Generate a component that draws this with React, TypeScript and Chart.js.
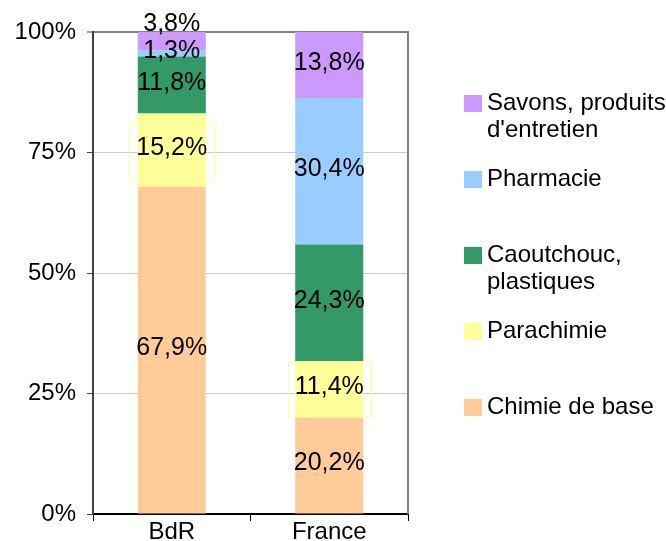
import { useEffect, useRef } from 'react';
import { Chart, registerables } from 'chart.js';

Chart.register(...registerables);

const FONT = '"Liberation Sans", Arial, Helvetica, sans-serif';

const categories = ['BdR', 'France'];
const seriesNames = [
  'Chimie de base',
  'Parachimie',
  'Caoutchouc, plastiques',
  'Pharmacie',
  "Savons, produits d'entretien",
];
const chimieDeBase = [67.9, 20.2];
const parachimie = [15.2, 11.4];
const caoutchouc = [11.8, 24.3];
const pharmacie = [1.3, 30.4];
const savons = [3.8, 13.8];
const yTickValues = [0, 25, 50, 75, 100];

const seriesColors = ['#FFCC99', '#FFFF99', '#339966', '#99CCFF', '#CC99FF'];

const fmt = (v: number) => v.toFixed(1).replace('.', ',') + '%';

const segLabels = {
  id: 'segLabels',
  afterDatasetsDraw(chart: any) {
    const ctx = chart.ctx as CanvasRenderingContext2D;
    ctx.save();
    ctx.font = `25px ${FONT}`;
    ctx.textAlign = 'center';
    ctx.textBaseline = 'middle';
    const n = chart.data.datasets.length;
    chart.data.datasets.forEach((ds: any, di: number) => {
      const meta = chart.getDatasetMeta(di);
      meta.data.forEach((bar: any, i: number) => {
        const v = ds.data[i] as number;
        const p = bar.getProps(['x', 'y', 'base'], true);
        const top = Math.min(p.y, p.base);
        const bottom = Math.max(p.y, p.base);
        const h = bottom - top;
        const mid = (top + bottom) / 2;
        let cy = mid - 2;
        if (di === n - 1 && h < 20) cy = top - 8;
        const text = fmt(v);
        if (ds.labelBox) {
          const w = ctx.measureText(text).width;
          ctx.strokeStyle = '#FFFF99';
          ctx.lineWidth = 1;
          ctx.strokeRect(
            Math.round(p.x - w / 2 - 7) + 0.5,
            Math.round(mid - 28) + 0.5,
            Math.round(w + 14),
            56
          );
        }
        ctx.fillStyle = '#000';
        ctx.fillText(text, p.x, cy);
      });
    });
    ctx.restore();
  },
};

const plotFrame = {
  id: 'plotFrame',
  afterDraw(chart: any) {
    const { ctx, chartArea } = chart;
    ctx.save();
    ctx.strokeStyle = '#808080';
    ctx.lineWidth = 2;
    ctx.beginPath();
    ctx.moveTo(chartArea.right, chartArea.top - 1);
    ctx.lineTo(chartArea.right, chartArea.bottom);
    ctx.stroke();
    ctx.restore();
  },
};

const sideLegend = {
  id: 'sideLegend',
  afterDraw(chart: any) {
    const ctx = chart.ctx as CanvasRenderingContext2D;
    ctx.save();
    ctx.font = `24px ${FONT}`;
    ctx.textBaseline = 'middle';
    ctx.textAlign = 'left';
    const swatchX = 464;
    const textX = 487;
    const maxW = chart.width - textX + 4;
    const firstY = 103;
    const step = 76;
    const lineH = 27;
    const items = chart.data.datasets.map((d: any) => ({ label: d.label, color: d.backgroundColor })).reverse();
    items.forEach((it: any, k: number) => {
      const y = firstY + k * step;
      ctx.fillStyle = it.color;
      ctx.fillRect(swatchX, Math.round(y - 8.5), 18, 17);
      const words = String(it.label).split(' ');
      const lines: string[] = [];
      let cur = '';
      words.forEach((w) => {
        const t = cur ? cur + ' ' + w : w;
        if (ctx.measureText(t).width > maxW && cur) {
          lines.push(cur);
          cur = w;
        } else cur = t;
      });
      if (cur) lines.push(cur);
      ctx.fillStyle = '#000';
      lines.forEach((ln, li) => ctx.fillText(ln, textX, y + li * lineH));
    });
    ctx.restore();
  },
};

export default function App() {
  const ref = useRef<HTMLCanvasElement | null>(null);
  useEffect(() => {
    if (!ref.current) return;
    const seriesData = [chimieDeBase, parachimie, caoutchouc, pharmacie, savons];
    const chart = new Chart(ref.current, {
      type: 'bar',
      data: {
        labels: categories,
        datasets: seriesData.map((d, i) => ({
          label: seriesNames[i],
          data: d,
          backgroundColor: seriesColors[i],
          borderWidth: 0,
          barPercentage: 0.432,
          categoryPercentage: 1,
          labelBox: i === 1,
        })) as any,
      },
      options: {
        responsive: false,
        animation: false,
        events: [],
        layout: { padding: { left: 0, top: 32, right: 258, bottom: 0 } },
        plugins: {
          legend: { display: false },
          tooltip: { enabled: false },
        },
        scales: {
          x: {
            stacked: true,
            offset: true,
            border: { color: '#000', width: 2 },
            grid: {
              offset: true,
              drawOnChartArea: false,
              drawTicks: true,
              tickLength: 7,
              tickColor: '#000',
              tickWidth: 1,
            },
            ticks: { color: '#000', font: { family: FONT, size: 24 }, padding: -3 },
            afterFit: (s: any) => {
              s.height = 27;
            },
          },
          y: {
            stacked: true,
            min: 0,
            max: 100,
            border: { color: '#404040', width: 2 },
            afterBuildTicks: (s: any) => {
              s.ticks = yTickValues.map((v) => ({ value: v }));
            },
            grid: {
              color: (c: any) => (c.tick && c.tick.value === 100 ? '#808080' : '#C8C8C8'),
              lineWidth: (c: any) => (c.tick && c.tick.value === 100 ? 2 : 1),
              tickColor: '#404040',
              tickLength: 6,
              tickWidth: 1,
            },
            ticks: {
              color: '#000',
              font: { family: FONT, size: 24 },
              padding: 11,
              callback: (v: any) => v + '%',
            },
            afterFit: (s: any) => {
              s.width = 93;
            },
          },
        },
      },
      plugins: [segLabels, plotFrame, sideLegend],
    });
    return () => chart.destroy();
  }, []);
  return (
    <div style={{ position: 'absolute', left: 0, top: 0, width: 666, height: 541, background: '#fff' }}>
      <canvas ref={ref} width={666} height={541} style={{ display: 'block' }} />
    </div>
  );
}
